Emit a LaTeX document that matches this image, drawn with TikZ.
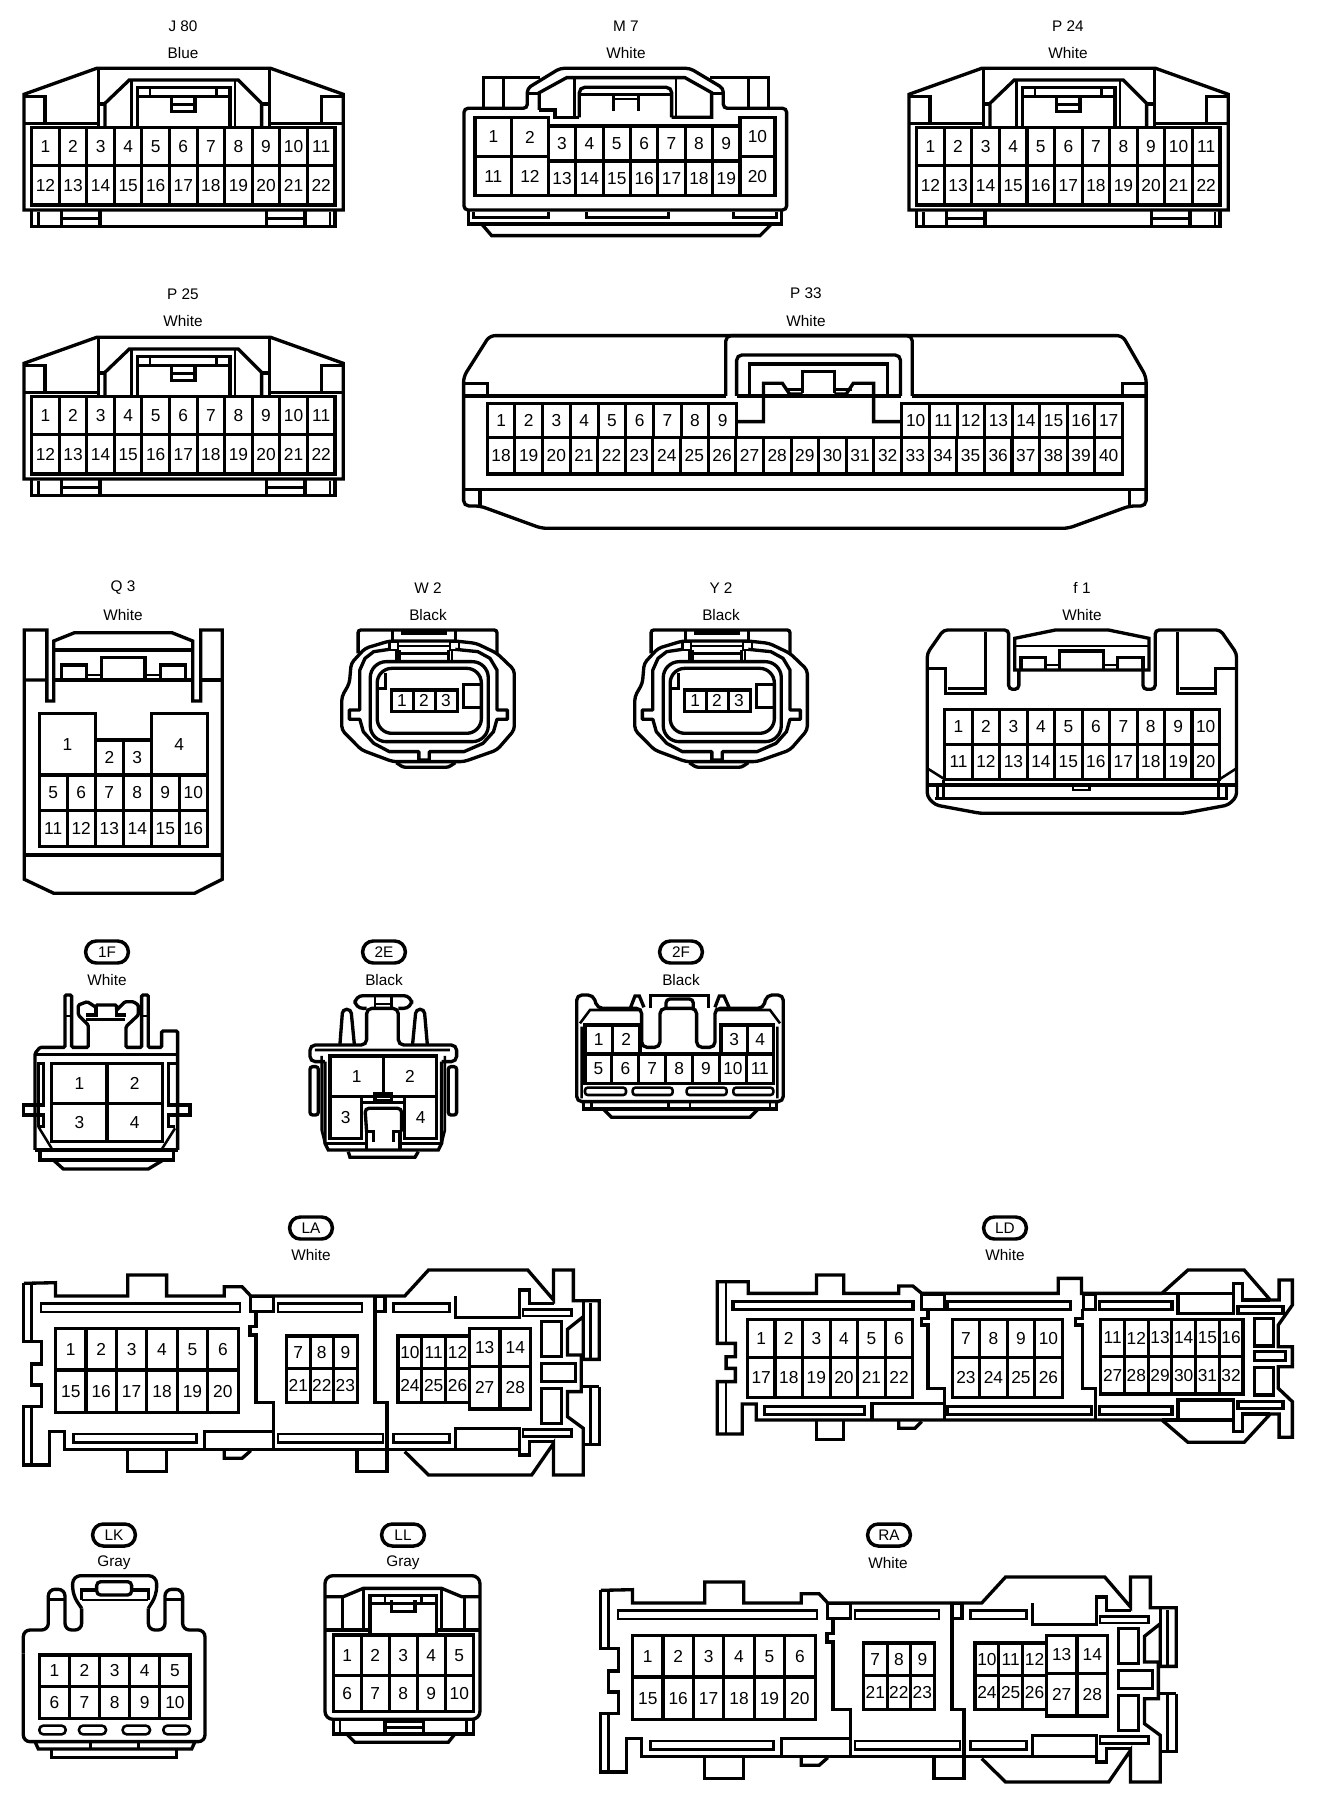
\documentclass[tikz,border=0pt]{standalone}
\usepackage{fontspec}
\setmainfont{Liberation Sans}
\tikzset{
 ol/.style={line width=2.5pt,line join=miter},
 tl/.style={line width=1.9pt,line join=miter},
 pinline/.style={line width=2.3pt},
 pinlabel/.style={inner sep=0pt,font=\fontsize{13}{13}\selectfont},
 caption/.style={inner sep=0pt,font=\fontsize{11.5}{12}\selectfont},
 pill/.style={draw,line width=2.6pt,rounded corners=8pt,minimum width=32pt,minimum height=16.5pt,inner sep=0pt,font=\fontsize{11.5}{12}\selectfont},
}
\newcommand\pingrid[7]{%
 \foreach \i in {1,...,#6}{%
  \pgfmathsetmacro\xa{#2+(#3-#2)/#6*(\i-1)}%
  \pgfmathsetmacro\xb{#2+(#3-#2)/#6*\i}%
  \pgfmathsetmacro\xm{(\xa+\xb)/2}%
  \pgfmathsetmacro\ym{(#4+#5)/2}%
  \pgfmathtruncatemacro\lab{#7+\i-1}%
  \draw[pinline] (\xa,#4) rectangle (\xb,#5);
  \node[pinlabel] (#1-\lab) at (\xm,\ym) {\lab};
 }}
\newcommand\jconn[1]{%
 \draw[ol] (72,283)--(290,205)--(812,205)--(1030,283)--(1030,630)--(72,630)--cycle;
 \draw[tl] (72,370)--(295,370) (808,370)--(1030,370);
 \draw[ol] (72,290)--(135,290)--(135,370) (1030,290)--(965,290)--(965,370);
 \draw[ol] (295,205)--(295,383) (808,205)--(808,383);
 \draw[ol] (315,383)--(315,310)--(388,240)--(715,240)--(785,310)--(785,383);
 \draw[ol] (295,312)--(315,312) (785,312)--(808,312);
 \draw[tl] (395,240)--(395,378) (705,240)--(705,378);
 \draw[ol] (413,383)--(413,263)--(690,263)--(690,383);
 \draw[tl] (413,290)--(690,290) (450,263)--(450,290) (650,263)--(650,290);
 \draw[ol] (515,292)--(515,335)--(585,335)--(585,292);
 \draw[tl] (515,313)--(585,313);
 \draw[ol] (95,630)--(95,680)--(1005,680)--(1005,630);
 \draw[tl] (115,635)--(115,680) (990,635)--(990,680);
 \draw[ol] (185,630)--(185,680) (300,630)--(300,680) (185,655)--(300,655);
 \draw[ol] (800,630)--(800,680) (915,630)--(915,680) (800,655)--(915,655);
 \pingrid{#1}{95}{1005}{383}{497}{11}{1}
 \pingrid{#1}{95}{1005}{497}{615}{11}{12}
}
\newcommand\wconn[1]{%
 \draw[ol,rounded corners=2pt] (1040,250)--(1040,180)--(1440,180)--(1440,250);
 \draw[ol,rounded corners=3pt] (1020,280)--(1015,340)--(993,380)--(993,480)--(1050,540)--(1140,575)--(1345,575)--(1440,540)--(1490,480)--(1490,300)--(1440,250)--(1380,220)--(1320,213)--(1130,213)--(1060,235)--cycle;
 \draw[ol,rounded corners=2pt] (1150,578)--(1170,592)--(1300,592)--(1320,578);
 \draw[ol,line join=round] (1130,238)--(1085,245)--(1060,265)--(1045,300)--(1045,420)--(1015,420)--(1015,448)--(1045,448)--(1055,485)--(1085,520)--(1130,545)--(1215,545)--(1215,570)--(1245,570)--(1245,545)--(1345,545)--(1400,520)--(1430,485)--(1440,448)--(1470,448)--(1470,420)--(1440,420)--(1440,300)--(1420,265)--(1385,245)--(1320,238);
 \draw[ol,rounded corners=12pt] (1075,400)--(1075,515)--(1415,515)--(1415,275)--(1075,275)--cycle;
 \draw[ol,rounded corners=11pt] (1095,400)--(1095,490)--(1395,490)--(1395,295)--(1095,295)--cycle;
 \pingrid{#1}{1135}{1325}{360}{425}{3}{1}
 \draw[ol] (1395,343)--(1343,343)--(1343,412)--(1395,412);
 \draw[ol] (1100,355)--(1118,355)--(1118,310);
 \draw[ol] (1140,180)--(1140,213) (1320,180)--(1320,213);
 \draw[line width=3.6pt] (1165,188)--(1295,188);
 \draw[tl] (1130,215) rectangle (1155,240) (1305,215) rectangle (1330,240);
 \draw[tl] (1150,240)--(1150,275) (1160,240)--(1160,275) (1300,240)--(1300,275) (1310,240)--(1310,275);
 \draw[tl] (1155,228)--(1305,228) (1155,250)--(1305,250);
}
\newcommand\laconn[1]{%
 \draw[ol] (60,220)--(140,218)--(140,258)--(322,258)--(322,195)--(420,195)--(420,258)--(565,258)--(565,230)--(610,230)--(632,258)--(1020,258)--(1080,180)--(1330,180)--(1395,270)--(1395,180)--(1445,180)--(1445,272)--(1510,272)--(1510,448)--(1470,448)--(1470,320)--(1430,358)--(1430,435)--(1465,435)--(1465,545)--(1430,545)--(1430,620)--(1470,655)--(1470,795)--(1395,795)--(1395,700)--(1340,795)--(1080,795)--(1020,725);
 \draw[ol] (1510,530)--(1510,703)--(1470,703) (1510,530)--(1465,530) (1470,272)--(1470,320);
 \draw[ol] (1310,718)--(163,718)--(163,665)--(125,665)--(125,765)--(60,765)--(60,590)--(105,590)--(105,525)--(80,525)--(80,462)--(105,462)--(105,395)--(60,395)--(60,220);
 \draw[tl] (80,222)--(80,395) (80,590)--(80,765) (1488,280)--(1488,445) (1488,535)--(1488,700);
 \draw[ol] (322,718)--(322,785)--(420,785)--(420,718);
 \draw[ol] (565,718)--(565,745)--(610,745)--(632,722);
 \draw[ol] (900,718)--(900,785)--(975,785)--(975,718);
 \draw[tl] (103,280) rectangle (605,306) (700,280) rectangle (912,306) (992,280) rectangle (1133,306);
 \draw[ol] (632,260) rectangle (690,305) (945,260) rectangle (970,305);
 \draw[ol] (1148,258)--(1148,322)--(1310,322)--(1310,240)--(1335,240)--(1335,280)--(1395,280);
 \draw[tl] (1318,298) rectangle (1440,318);
 \draw[ol] (645,305)--(645,350)--(630,350)--(630,375)--(645,375)--(645,578)--(690,578)--(690,718);
 \draw[ol] (945,305)--(945,578)--(975,578)--(975,718);
 \draw[tl] (185,672) rectangle (495,698) (700,672) rectangle (965,698) (992,672) rectangle (1133,698);
 \draw[ol] (515,718)--(515,665)--(690,665);
 \draw[ol] (1148,718)--(1148,655)--(1310,655)--(1310,735)--(1335,735)--(1335,695)--(1395,695);
 \draw[tl] (1318,658) rectangle (1440,680);
 \draw[ol] (1365,335) rectangle (1415,440) (1365,460) rectangle (1450,515) (1365,535) rectangle (1415,640);
 \pingrid{#1}{140}{600}{355}{480}{6}{1}
 \pingrid{#1}{140}{600}{480}{607}{6}{15}
 \pingrid{#1}{722}{900}{378}{475}{3}{7}
 \pingrid{#1}{722}{900}{475}{578}{3}{21}
 \pingrid{#1}{1003}{1183}{378}{475}{3}{10}
 \pingrid{#1}{1003}{1183}{475}{578}{3}{24}
 \pingrid{#1}{1183}{1337}{355}{470}{2}{13}
 \pingrid{#1}{1183}{1337}{470}{597}{2}{27}
}
\begin{document}
\begin{tikzpicture}[x=0.75pt,y=-0.75pt]
\useasboundingbox (0,0) rectangle (1328,1802);
\fill[white] (0,0) rectangle (1328,1802);
% ---------- captions
\node[caption] (capJ) at (183,26) {J 80};\node[caption] (colJ) at (183,53) {Blue};
\node[caption] (capM) at (626,26) {M 7};\node[caption] (colM) at (626,53) {White};
\node[caption] (capP24) at (1068,26) {P 24};\node[caption] (colP24) at (1068,53) {White};
\node[caption] (capP25) at (183,294) {P 25};\node[caption] (colP25) at (183,321) {White};
\node[caption] (capP33) at (806,293) {P 33};\node[caption] (colP33) at (806,321) {White};
\node[caption] (capQ) at (123,588) {Q 3};\node[caption] (colQ) at (123,615) {White};
\node[caption] (capW) at (428,588) {W 2};\node[caption] (colW) at (428,615) {Black};
\node[caption] (capY) at (721,588) {Y 2};\node[caption] (colY) at (721,615) {Black};
\node[caption] (capf) at (1082,588) {f 1};\node[caption] (colf) at (1082,615) {White};
\node[pill] (p1F) at (107,952) {1F};\node[caption] (col1F) at (107,980) {White};
\node[pill] (p2E) at (384,952) {2E};\node[caption] (col2E) at (384,980) {Black};
\node[pill] (p2F) at (681,952) {2F};\node[caption] (col2F) at (681,980) {Black};
\node[pill] (pLA) at (311,1228) {LA};\node[caption] (colLA) at (311,1255) {White};
\node[pill] (pLD) at (1005,1228) {LD};\node[caption] (colLD) at (1005,1255) {White};
\node[pill] (pLK) at (114,1535) {LK};\node[caption] (colLK) at (114,1563) {Gray};
\node[pill] (pLL) at (403,1535) {LL};\node[caption] (colLL) at (403,1563) {Gray};
\node[pill] (pRA) at (889,1535) {RA};\node[caption] (colRA) at (888,1563) {White};
% ---------- J80, P24, P25
\begin{scope}[xscale=0.3333,yscale=0.3333]\jconn{J}\end{scope}
\begin{scope}[shift={(885,0)},xscale=0.3333,yscale=0.3333]\jconn{Pa}\end{scope}
\begin{scope}[shift={(0,269)},xscale=0.3333,yscale=0.3333]\jconn{Pb}\end{scope}
% ---------- M7
\begin{scope}[shift={(440,0)},xscale=0.3333,yscale=0.3333]
 \draw[ol,rounded corners=3pt] (72,325)--(262,325)--(262,265)--(360,205)--(750,205)--(850,265)--(850,325)--(1040,325)--(1040,630)--(72,630)--cycle;
 \draw[ol] (130,325)--(130,233)--(300,233) (985,325)--(985,233)--(810,233);
 \draw[tl] (190,233)--(190,325) (925,233)--(925,325);
 \draw[ol] (298,330)--(298,278)--(380,233)--(735,233)--(815,278)--(815,352)--(695,352);
 \draw[ol] (298,330)--(345,330)--(345,352)--(418,352);
 \draw[ol] (262,280)--(298,280) (815,280)--(850,280);
 \draw[tl] (403,233)--(403,352) (708,233)--(708,352);
 \draw[ol,rounded corners=4pt] (418,352)--(418,262)--(695,262)--(695,352);
 \draw[tl] (418,283)--(695,283) (520,297)--(595,297);
 \draw[ol] (520,283)--(520,332) (595,283)--(595,332);
 \pingrid{M}{105}{325}{352}{470}{2}{1}
 \pingrid{M}{105}{325}{470}{587}{2}{11}
 \pingrid{M}{325}{900}{378}{483}{7}{3}
 \pingrid{M}{325}{900}{483}{587}{7}{13}
 \pingrid{M}{900}{1005}{352}{470}{1}{10}
 \pingrid{M}{900}{1005}{470}{587}{1}{20}
 \draw[ol] (85,630)--(85,672)--(1025,672)--(1025,630);
 \draw[ol] (100,635)--(100,653)--(325,653)--(325,635) (440,635)--(440,653)--(685,653)--(685,635) (880,635)--(880,653)--(1010,653)--(1010,635);
 \draw[ol] (125,672)--(155,707)--(960,707)--(995,672);
\end{scope}
% ---------- P33
\begin{scope}[shift={(440,270)},xscale=0.4723,yscale=0.3333]
 \draw[ol,rounded corners=4pt] (50,708)--(50,320)--(105,197)--(1445,197)--(1495,320)--(1495,708)--(1460,708)--(1330,775)--(215,775)--(85,708)--cycle;
 \draw[ol] (50,378)--(605,378) (1000,378)--(1495,378);
 \draw[ol] (50,340)--(100,340)--(100,378) (1495,340)--(1445,340)--(1445,378);
 \draw[ol,rounded corners=4pt] (605,378)--(605,197)--(1000,197)--(1000,378);
 \draw[ol,rounded corners=4pt] (628,378)--(628,255)--(975,255)--(975,378);
 \draw[ol] (628,378)--(975,378);
 \draw[ol] (655,378)--(655,282)--(948,282)--(948,378);
 \draw[ol] (768,370)--(768,305)--(835,305)--(835,370);
 \draw[ol] (628,455)--(685,455)--(685,340)--(725,340)--(740,372)--(768,372);
 \draw[ol] (975,455)--(918,455)--(918,340)--(875,340)--(860,372)--(835,372);
 \draw[tl] (735,358)--(768,358) (835,358)--(872,358);
 \pingrid{P33}{100}{628}{400}{503}{9}{1}
 \pingrid{P33}{978}{1445}{400}{503}{8}{10}
 \pingrid{P33}{100}{1445}{503}{612}{23}{18}
 \draw[ol] (50,658)--(1495,658);
 \draw[ol] (85,658)--(85,708) (1460,658)--(1460,708);
\end{scope}
% ---------- Q3
\begin{scope}[shift={(0,570)},xscale=0.3472,yscale=0.3333]
 \draw[ol] (135,330)--(70,330) (70,330)--(70,180)--(135,180)--(135,393)--(155,393)--(155,213)--(215,188)--(495,188)--(555,213)--(555,393)--(578,393)--(578,180)--(640,180)--(640,928)--(560,970)--(155,970)--(70,928)--cycle;
 \draw[ol] (155,240)--(555,240) (155,330)--(555,330) (578,330)--(640,330);
 \draw[ol] (178,330)--(178,285)--(250,285)--(250,330);
 \draw[ol] (292,330)--(292,262)--(418,262)--(418,330);
 \draw[ol] (462,330)--(462,285)--(535,285)--(535,330);
 \draw[tl] (250,315)--(292,315) (418,315)--(462,315);
 \draw[ol] (70,855)--(640,855);
 \pingrid{Q}{113}{275}{430}{615}{1}{1}
 \pingrid{Q}{275}{435}{510}{615}{2}{2}
 \pingrid{Q}{435}{597}{430}{615}{1}{4}
 \pingrid{Q}{113}{597}{615}{722}{6}{5}
 \pingrid{Q}{113}{597}{722}{830}{6}{11}
\end{scope}
% ---------- W2, Y2
\begin{scope}[shift={(-3,570)},xscale=0.3472,yscale=0.3333]\wconn{W}\end{scope}
\begin{scope}[shift={(290,570)},xscale=0.3472,yscale=0.3333]\wconn{Y}\end{scope}
% ---------- f1
\begin{scope}[shift={(622,570)},xscale=0.4070,yscale=0.3333]
 \draw[ol,rounded corners=3pt] (750,660)--(750,250)--(790,180)--(950,180)--(950,358)--(975,358)--(975,300);
 \draw[ol] (965,300)--(965,205)--(1065,180)--(1195,180)--(1295,205)--(1295,300)--cycle;
 \draw[ol,rounded corners=3pt] (1280,300)--(1280,358)--(1310,358)--(1310,180)--(1470,180)--(1510,250)--(1510,680)--(1490,705)--(1380,730)--(880,730)--(770,705)--(750,680)--(750,660);
 \draw[tl] (965,228)--(1295,228);
 \draw[ol] (980,300)--(980,262)--(1040,262)--(1040,300);
 \draw[ol] (1075,300)--(1075,243)--(1183,243)--(1183,300);
 \draw[ol] (1218,300)--(1218,262)--(1280,262)--(1280,300);
 \draw[tl] (1040,285)--(1075,285) (1183,285)--(1218,285);
 \draw[ol] (750,295)--(795,295)--(795,370)--(893,370)--(893,185);
 \draw[tl] (800,355)--(893,355) (1370,355)--(1458,355);
 \draw[ol] (1510,295)--(1458,295)--(1458,370)--(1365,370)--(1365,185);
 \pingrid{f}{793}{1468}{418}{523}{10}{1}
 \pingrid{f}{793}{1468}{523}{628}{10}{11}
 \draw[ol] (750,645)--(1510,645);
 \draw[ol] (770,685)--(1490,685);
 \draw[tl] (775,645)--(775,685) (790,630)--(790,685) (1465,630)--(1465,685) (1485,645)--(1485,685);
 \draw[tl] (750,595)--(793,628) (1510,595)--(1468,628);
 \draw[tl] (1108,648)--(1108,660)--(1148,660)--(1148,648);
\end{scope}
% ---------- 1F, 2E
\begin{scope}[shift={(0,930)},xscale=0.3333,yscale=0.3333]
 \draw[ol,rounded corners=1pt] (105,660)--(105,370)--(120,352)--(195,352)--(195,195)--(215,195)--(215,352)--(265,352)--(265,285)--(235,255)--(235,225)--(262,215)--(288,232)--(288,225)--(350,225)--(350,240)--(375,215)--(400,215)--(415,225)--(415,255)--(378,290)--(378,352)--(425,352)--(425,195)--(445,195)--(445,352)--(485,352)--(485,303)--(533,303)--(533,660);
 \draw[ol] (288,232)--(288,255)--(258,255) (350,240)--(350,255)--(378,255);
 \draw[tl] (258,268)--(375,268) (105,373)--(533,373) (195,258)--(215,258) (425,258)--(445,258);
 \pingrid{F}{155}{487}{400}{520}{2}{1}
 \pingrid{F}{155}{487}{520}{635}{2}{3}
 \draw[ol] (115,590)--(115,400)--(130,400)--(130,525)--(70,525)--(70,555)--(130,555)--(130,590)--(115,590);
 \draw[ol] (525,590)--(505,590)--(505,555)--(570,555)--(570,525)--(505,525)--(505,400)--(533,400);
 \draw[tl] (115,590)--(155,655) (525,595)--(487,655);
 \draw[ol] (105,660)--(533,660);
 \draw[ol] (120,660)--(120,690)--(520,690)--(520,660);
 \draw[ol] (160,690)--(190,717)--(445,717)--(490,690);
\end{scope}
\begin{scope}[shift={(0,930)},xscale=0.3333,yscale=0.3333]
 \pingrid{E}{990}{1310}{378}{500}{2}{1}
 \pingrid{E}{990}{1085}{500}{625}{1}{3}
 \pingrid{E}{1215}{1310}{500}{625}{1}{4}
 \draw[ol,rounded corners=4pt] (975,395)--(930,395)--(930,345)--(1100,345)--(1100,235)--(1195,235)--(1195,345)--(1370,345)--(1370,395)--(1325,395);
 \draw[tl] (965,378)--(965,600)--(975,640) (1335,378)--(1335,600)--(1325,640) (945,360)--(1350,360);
 \draw[ol] (975,395)--(975,640)--(985,660)--(1315,660)--(1325,640)--(1325,395);
 \draw[ol] (975,640)--(1100,640) (1200,640)--(1325,640);
 \draw[ol,rounded corners=2pt] (930,410) rectangle (955,555) (1345,410) rectangle (1370,555);
 \draw[ol,rounded corners=6pt] (1100,235)--(1065,235)--(1065,197)--(1235,197)--(1235,235)--(1195,235);
 \draw[tl] (1125,197)--(1125,235) (1175,197)--(1175,235) (1125,222)--(1175,222);
 \draw[ol,rounded corners=3pt] (1020,342)--(1028,238)--(1053,238)--(1063,342) (1238,342)--(1248,238)--(1273,238)--(1282,342);
 \draw[ol] (1085,518)--(1215,518);
 \draw[ol,rounded corners=3pt] (1100,605)--(1095,535)--(1205,535)--(1205,605);
 \draw[ol] (1100,660)--(1100,605)--(1120,605)--(1120,635) (1200,660)--(1200,605)--(1180,605)--(1180,635);
 \draw[ol] (1125,490) rectangle (1175,512);
 \draw[ol] (1045,665)--(1050,682)--(1245,682)--(1255,665);
\end{scope}
% ---------- 2F
\begin{scope}[shift={(540,930)},xscale=0.3333,yscale=0.3333]
 \draw[ol,rounded corners=4pt] (110,515)--(110,195)--(160,195)--(172,235)--(305,235)--(305,352)--(360,352)--(360,235)--(470,235)--(470,352)--(525,352)--(525,235)--(670,235)--(680,195)--(730,195)--(730,515)--cycle;
 \draw[ol] (272,232)--(285,198)--(298,198)--(312,232) (525,232)--(538,198)--(552,198)--(567,232);
 \draw[ol] (332,235)--(332,197)--(505,197)--(505,235);
 \draw[ol,rounded corners=3pt] (378,235)--(378,207)--(460,207)--(460,235);
 \draw[tl] (120,280)--(150,240)--(305,240) (720,280)--(690,240)--(525,240) (125,290)--(125,505) (712,290)--(712,505);
 \pingrid{G}{135}{300}{285}{370}{2}{1}
 \pingrid{G}{543}{700}{285}{370}{2}{3}
 \pingrid{G}{135}{700}{372}{460}{7}{5}
 \draw[tl,rounded corners=2pt] (135,473) rectangle (258,495) (278,473) rectangle (398,495) (440,473) rectangle (560,495) (580,473) rectangle (700,495);
 \draw[ol] (130,515)--(130,537)--(710,537)--(710,515);
 \draw[ol] (190,537)--(215,562)--(630,562)--(655,537);
 \draw[tl] (155,515)--(155,537) (385,515)--(385,537) (450,515)--(450,537) (690,515)--(690,537);
\end{scope}
% ---------- LA, RA
\begin{scope}[shift={(0,1210)},xscale=0.3968,yscale=0.3333]\laconn{LA}\end{scope}
\begin{scope}[shift={(577,1517)},xscale=0.3968,yscale=0.3333]\laconn{RA}\end{scope}
% ---------- LD
\begin{scope}[shift={(700,1210)},xscale=0.4016,yscale=0.3333]
 \draw[ol] (43,215)--(120,215)--(120,250)--(290,250)--(290,195)--(358,195)--(358,250)--(495,250)--(495,228)--(530,228)--(552,250)--(892,250)--(892,205)--(950,205)--(950,250)--(1150,250)--(1215,180)--(1355,180)--(1420,270)--(1442,270)--(1442,210)--(1475,210)--(1475,285)--(1440,345)--(1440,410)--(1475,410)--(1475,470)--(1440,470)--(1440,535)--(1475,575)--(1475,682)--(1442,682)--(1442,612)--(1420,612)--(1355,697)--(1215,697)--(1150,630)--(140,630)--(140,582)--(105,582)--(105,672)--(43,672)--(43,515)--(88,515)--(88,475)--(65,475)--(65,440)--(88,440)--(88,400)--(43,400)--cycle;
 \draw[tl] (65,218)--(65,400) (65,515)--(65,670);
 \draw[ol] (495,630)--(495,655)--(535,655)--(552,635);
 \draw[ol] (290,630)--(290,688)--(358,688)--(358,630);
 \draw[ol] (1150,630)--(1328,630)--(1328,665)--(1350,665)--(1350,612)--(1420,612);
 \draw[ol] (1150,250)--(1328,250)--(1328,220)--(1350,220)--(1350,270)--(1420,270);
 \draw[ol] (82,275) rectangle (530,298) (552,252) rectangle (608,298) (615,275) rectangle (922,298) (955,252) rectangle (985,298) (995,275) rectangle (1175,298);
 \draw[ol] (1190,252)--(1190,310)--(1328,310)--(1328,252);
 \draw[ol] (1340,290) rectangle (1452,310);
 \draw[ol] (568,298)--(568,325)--(552,325)--(552,345)--(568,345)--(568,535)--(608,535)--(608,630);
 \draw[ol] (952,298)--(952,325)--(935,325)--(935,345)--(952,345)--(952,535)--(985,535)--(985,630);
 \draw[ol] (160,590) rectangle (410,613) (615,590) rectangle (975,613) (995,590) rectangle (1175,613);
 \draw[ol] (428,630)--(428,580)--(608,580);
 \draw[ol] (1190,630)--(1190,570)--(1328,570)--(1328,630);
 \draw[ol] (1340,575) rectangle (1452,595);
 \draw[ol] (1380,325) rectangle (1428,408) (1380,425) rectangle (1458,452) (1380,472) rectangle (1428,555);
 \pingrid{LD}{118}{530}{328}{443}{6}{1}
 \pingrid{LD}{118}{530}{443}{562}{6}{17}
 \pingrid{LD}{628}{902}{328}{443}{4}{7}
 \pingrid{LD}{628}{902}{443}{562}{4}{23}
 \pingrid{LD}{998}{1352}{328}{440}{6}{11}
 \pingrid{LD}{998}{1352}{440}{552}{6}{27}
\end{scope}
% ---------- LK, LL
\begin{scope}[shift={(0,1510)},xscale=0.3333,yscale=0.3333]
 \draw[ol,rounded corners=5pt] (70,430)--(70,360)--(145,360)--(145,238)--(195,238)--(195,360)--(245,360)--(245,295);
 \draw[ol,rounded corners=6pt] (245,295)--(218,255)--(218,197)--(470,197)--(470,255)--(445,295);
 \draw[ol,rounded corners=5pt] (445,295)--(445,360)--(495,360)--(495,238)--(548,238)--(548,360)--(615,360)--(615,695)--(70,695)--(70,430);
 \draw[ol] (245,270)--(245,240)--(290,240) (395,240)--(445,240)--(445,270);
 \draw[tl] (245,270)--(445,270) (145,268)--(195,268) (495,268)--(548,268);
 \draw[ol,rounded corners=3pt] (290,215) rectangle (395,255);
 \pingrid{K}{118}{570}{435}{530}{5}{1}
 \pingrid{K}{118}{570}{530}{625}{5}{6}
 \draw[tl,rounded corners=3pt] (118,647) rectangle (197,673) (237,647) rectangle (318,673) (368,647) rectangle (450,673) (490,647) rectangle (570,673);
 \draw[ol] (105,695)--(115,717)--(575,717)--(585,695);
 \draw[tl] (272,695)--(272,717) (415,695)--(415,717);
 \draw[ol] (155,717)--(155,743)--(530,743)--(530,717);
\end{scope}
\begin{scope}[shift={(0,1510)},xscale=0.3333,yscale=0.3333]
 \draw[ol,rounded corners=6pt] (975,628)--(975,197)--(1440,197)--(1440,628)--cycle;
 \draw[ol] (975,260)--(1030,260)--(1090,235)--(1325,235)--(1385,260)--(1440,260);
 \draw[ol] (1028,260)--(1028,360) (1393,260)--(1393,360) (975,360)--(1110,360) (1310,360)--(1440,360);
 \draw[tl] (1090,235)--(1090,360) (1325,235)--(1325,360);
 \draw[ol] (1110,375)--(1110,257)--(1310,257)--(1310,375);
 \draw[tl] (1110,280)--(1310,280) (1155,257)--(1155,280) (1265,257)--(1265,280);
 \draw[ol] (1175,270)--(1175,305)--(1245,305)--(1245,270);
 \pingrid{L}{1000}{1420}{375}{497}{5}{1}
 \pingrid{L}{1000}{1420}{497}{605}{5}{6}
 \draw[ol] (1000,628)--(1000,672)--(1420,672)--(1420,628);
 \draw[tl] (1020,628)--(1020,672) (1400,628)--(1400,672);
 \draw[ol] (1155,672)--(1155,635)--(1270,635)--(1270,672) (1155,652)--(1270,652);
 \draw[ol] (1040,672)--(1065,697)--(1345,697)--(1365,672);
\end{scope}
\end{tikzpicture}
\end{document}
